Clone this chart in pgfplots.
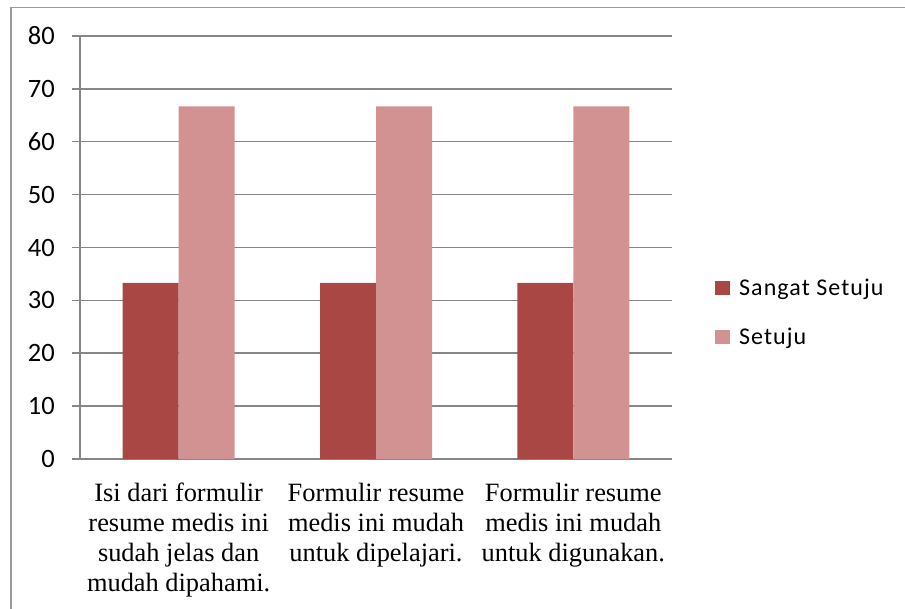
\documentclass[border=0pt]{standalone}
\usepackage{pgfplots}
\pgfplotsset{compat=1.18}
\usepackage{fontspec}
\setmainfont{Liberation Serif}
\newfontfamily\carlito{Carlito}
\newfontfamily\carlitosp{Carlito}[LetterSpace=4.5]
\definecolor{darkred}{HTML}{A94745}
\definecolor{pinkred}{HTML}{D29291}
\definecolor{gridgray}{HTML}{868686}
\definecolor{framegray}{HTML}{9A9A9A}
\begin{document}
\begin{tikzpicture}[x=1pt,y=1pt]
\useasboundingbox (0,0) rectangle (905,608);
\draw[framegray,line width=1.3pt] (11,-2) -- (11,600.5) -- (910,600.5);
\begin{axis}[
  at={(80pt,149pt)}, anchor=south west,
  scale only axis, width=592pt, height=423pt,
  ymin=0, ymax=80, ytick={0,10,...,80},
  xmin=-0.5, xmax=2.5,
  xtick={0,1,2},
  xticklabels={{Isi dari formulir\\resume medis ini\\sudah jelas dan\\mudah dipahami.},
               {Formulir resume\\medis ini mudah\\untuk dipelajari.},
               {Formulir resume\\medis ini mudah\\untuk digunakan.}},
  extra x ticks={-0.5,0.5,1.5,2.5},
  extra x tick labels={},
  extra x tick style={major tick length=8pt, tick style={gridgray,line width=1.5pt}},
  major x tick style={draw=none},
  axis x line=bottom, axis y line=left,
  axis line style={-, gridgray, line width=1.5pt},
  tick align=outside,
  major tick length=8pt,
  tick style={gridgray, line width=1.5pt},
  ymajorgrids, grid style={gridgray, line width=1.5pt},
  /pgf/number format/assume math mode=true,
  yticklabel style={font=\carlito\fontsize{26.5}{30}\selectfont, inner sep=0pt, xshift=-17pt},
  xticklabel style={font=\fontsize{26.4}{30}\selectfont, align=center, inner sep=0pt, yshift=-16pt},
  ybar=0pt, bar width=56pt,
  legend style={at={(1.0725,0.346)}, anchor=west, draw=none, fill=none,
    font=\carlitosp\fontsize{24}{28}\selectfont, row sep=27pt, inner sep=0pt},
  legend cell align=left,
  legend image code/.code={\fill[#1] (0pt,-7pt) rectangle (15pt,7pt); \path (22pt,0pt);},
]
\addplot[fill=darkred, draw=none] coordinates {(0,33.33) (1,33.33) (2,33.33)};
\addplot[fill=pinkred, draw=none] coordinates {(0,66.67) (1,66.67) (2,66.67)};
\legend{Sangat Setuju, Setuju}
\end{axis}
\end{tikzpicture}
\end{document}
